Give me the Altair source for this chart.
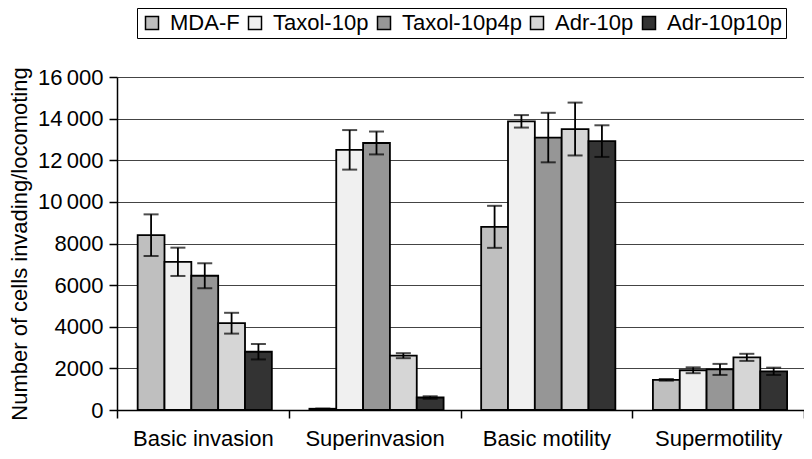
import altair as alt
import pandas as pd

categories = ["Basic invasion", "Superinvasion", "Basic motility", "Supermotility"]
groups = ["MDA-F", "Taxol-10p", "Taxol-10p4p", "Adr-10p", "Adr-10p10p"]

mda_f = [8400, 60, 8800, 1450]
mda_f_err = [1000, 0, 1010, 40]
taxol_10p = [7120, 12500, 13870, 1910]
taxol_10p_err = [680, 950, 300, 140]
taxol_10p4p = [6450, 12830, 13090, 1950]
taxol_10p4p_err = [600, 550, 1190, 265]
adr_10p = [4170, 2610, 13500, 2530]
adr_10p_err = [500, 120, 1270, 170]
adr_10p10p = [2800, 600, 12920, 1860]
adr_10p10p_err = [370, 60, 760, 175]

colors = ["#bfbfbf", "#f0f0f0", "#969696", "#d6d6d6", "#333333"]
y_ticks = [0, 2000, 4000, 6000, 8000, 10000, 12000, 14000, 16000]

series = [
    (mda_f, mda_f_err),
    (taxol_10p, taxol_10p_err),
    (taxol_10p4p, taxol_10p4p_err),
    (adr_10p, adr_10p_err),
    (adr_10p10p, adr_10p10p_err),
]
rows = []
for g, (vals, errs) in zip(groups, series):
    for c, v, e in zip(categories, vals, errs):
        rows.append({"category": c, "group": g, "value": v, "lo": v - e, "hi": v + e})
df = pd.DataFrame(rows)

FONT = "Liberation Sans"

base = alt.Chart(df).encode(
    x=alt.X(
        "category:N",
        sort=categories,
        scale=alt.Scale(paddingInner=0, paddingOuter=0),
        axis=alt.Axis(
            title=None, labelAngle=0, tickBand="extent", tickSize=8,
            labelPadding=10, domainColor="black", tickColor="black",
            domainWidth=1.5, tickWidth=1.5,
            labelFont=FONT, labelFontSize=22, labelColor="black",
        ),
    ),
    xOffset=alt.XOffset(
        "group:N", sort=groups,
        scale=alt.Scale(paddingInner=0, paddingOuter=0.7, align=0.55),
    ),
)

bars = base.mark_bar(stroke="black", strokeWidth=1.8).encode(
    y=alt.Y(
        "value:Q",
        scale=alt.Scale(domain=[0, 16000], nice=False),
        axis=alt.Axis(
            values=y_ticks,
            title="Number of cells invading/locomoting",
            grid=True, gridColor="#444444", gridWidth=1,
            domainColor="black", domainWidth=1.5, tickColor="black",
            tickSize=8, tickWidth=1.5, labelPadding=6, titlePadding=6,
            labelFont=FONT, labelFontSize=22, labelColor="black",
            titleFont=FONT, titleFontSize=22, titleFontWeight="normal",
            titleColor="black",
            labelExpr="datum.value >= 10000 ? replace(format(datum.value, ','), ',', '\u2009') : format(datum.value, 'd')",
        ),
    ),
    color=alt.Color(
        "group:N", sort=groups,
        scale=alt.Scale(domain=groups, range=colors),
        legend=alt.Legend(
            title=None, orient="none", legendX=20, legendY=-69,
            direction="horizontal", columns=5, symbolType="square",
            symbolSize=169, symbolStrokeColor="black", symbolStrokeWidth=1.5,
            labelFontSize=22, labelOffset=7, columnPadding=4,
            fillColor="white", strokeColor="black", padding=4,
            labelFont=FONT, labelColor="black",
        ),
    ),
)

rules = base.mark_rule(color="black", strokeWidth=1.8).encode(
    y=alt.Y("lo:Q"), y2="hi:Q"
)
caps_hi = base.mark_tick(color="black", thickness=2, size=15, orient="horizontal").encode(
    y=alt.Y("hi:Q")
)
caps_lo = base.mark_tick(color="black", thickness=2, size=15, orient="horizontal").encode(
    y=alt.Y("lo:Q")
)

chart = (
    alt.layer(bars, rules, caps_hi, caps_lo)
    .properties(
        width=687, height=333,
        autosize=alt.AutoSizeParams(type="none"),
        padding={"left": 109, "top": 69, "right": 0, "bottom": 40},
        background="white",
    )
    .configure_view(stroke=None)
)

chart.save("out.html", embed_options={"renderer": "svg", "actions": False})
